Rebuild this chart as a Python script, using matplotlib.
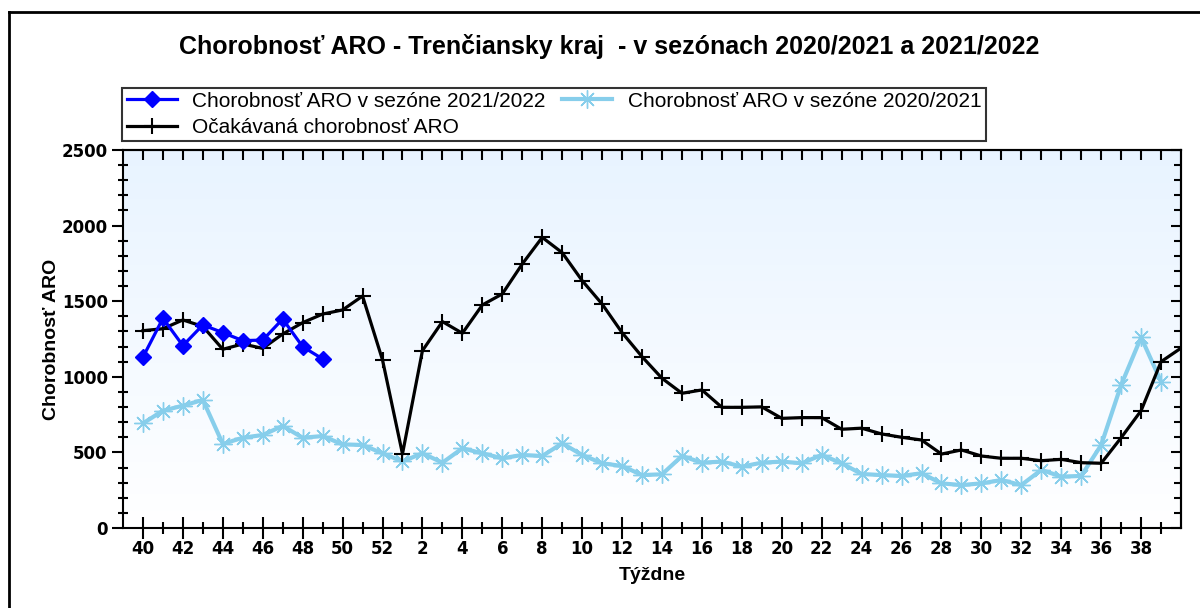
import numpy as np
from matplotlib import pyplot as plt
from matplotlib.lines import Line2D

# Týždne sezóny (40..52, 1..40)
tyzdne = list(range(40, 53)) + list(range(1, 41))

# Chorobnosť ARO v sezóne 2021/2022 (týždne 40-49)
sezona_2122 = [1130, 1387, 1206, 1343, 1292, 1239, 1243, 1382, 1199, 1118]

# Chorobnosť ARO v sezóne 2020/2021
sezona_2021 = [692, 776, 809, 847, 556, 597, 615, 675, 597, 608,
               553, 549, 494, 440, 494, 432, 527, 494, 461, 483,
               476, 560, 483, 428, 410, 350, 355, 476, 432, 439,
               406, 432, 439, 428, 483, 428, 357, 350, 344, 362,
               295, 284, 295, 317, 284, 384, 340, 344, 549, 946,
               1261, 968]

# Očakávaná chorobnosť ARO
ocakavana = [1305, 1318, 1376, 1333, 1182, 1217, 1188, 1283, 1358, 1415,
             1442, 1534, 1111, 490, 1173, 1365, 1288, 1475, 1548, 1746,
             1922, 1821, 1636, 1481, 1292, 1133, 990, 891, 913, 798,
             798, 801, 725, 730, 730, 653, 660, 622, 600, 582,
             489, 516, 476, 461, 461, 445, 454, 432, 428, 597,
             776, 1100, 1190]

plt.rcParams['font.family'] = ['Liberation Sans', 'DejaVu Sans']

fig = plt.figure(figsize=(12, 6.08), dpi=100)
ax = fig.add_axes([0.1025, 0.1316, 0.8817, 0.6217])

# pozadie s prechodom
grad = np.linspace(0, 1, 256).reshape(-1, 1)
top = np.array([0.91, 0.955, 1.0])
bot = np.array([1.0, 1.0, 1.0])
img = top * (1 - grad)[:, :, None] + bot * grad[:, :, None]
ax.imshow(img, extent=[0, 1, 0, 1], transform=ax.transAxes, aspect='auto', zorder=0)

x_2122 = np.arange(len(sezona_2122))
x_2021 = np.arange(len(sezona_2021))
x_ocak = np.arange(len(ocakavana))

l1, = ax.plot(x_2122, sezona_2122, color='#0000ff', lw=2.3, marker='D', ms=8,
              label='Chorobnosť ARO v sezóne 2021/2022', zorder=4)
l2, = ax.plot(x_2021, sezona_2021, color='#87ceeb', lw=3, marker=(8, 2, 0), ms=13,
              mew=1, label='Chorobnosť ARO v sezóne 2020/2021', zorder=2)
l3, = ax.plot(x_ocak, ocakavana, color='black', lw=2.3, marker='+', ms=12, mew=1.5,
              markevery=list(range(len(ocakavana) - 1)),
              label='Očakávaná chorobnosť ARO', zorder=3)

ax.set_xlim(-1, 52)
ax.set_ylim(0, 2500)

major_idx = list(range(0, 51, 2))
ax.set_xticks(major_idx)
ax.set_xticklabels([str(tyzdne[i]) for i in major_idx])
ax.set_xticks(list(range(1, 52, 2)), minor=True)
ax.set_yticks(range(0, 2501, 500))
ax.set_yticks(range(0, 2501, 100), minor=True)

ax.tick_params(axis='x', which='major', direction='inout', length=16, width=1.5,
               top=False, pad=1, labelsize=12)
ax.tick_params(axis='x', which='minor', direction='inout', length=8, width=1.5, top=False)
ax.tick_params(axis='y', which='major', direction='out', length=8, width=1.5,
               right=False, pad=3, labelsize=12)
ax.tick_params(axis='y', which='minor', direction='inout', length=7, width=1.5, right=False)
for lab in ax.get_xticklabels() + ax.get_yticklabels():
    lab.set_fontfamily('DejaVu Sans')
    lab.set_fontweight('bold')

# horné a pravé značky smerom dnu
secx = ax.secondary_xaxis('top')
secx.set_xticks(list(range(0, 52)), labels=[])
secx.tick_params(direction='in', length=7, width=1.5)
secy = ax.secondary_yaxis('right')
secy.set_yticks(range(0, 2501, 500), labels=[])
secy.set_yticks(range(0, 2501, 100), minor=True)
secy.tick_params(which='major', direction='in', length=7, width=1.5)
secy.tick_params(which='minor', direction='in', length=5, width=1.5)
secy.yaxis.set_ticklabels([], minor=True)

for s in list(ax.spines.values()) + list(secx.spines.values()) + list(secy.spines.values()):
    s.set_linewidth(1.5)

ax.set_xlabel('Týždne', fontsize=14, fontweight='bold', labelpad=6)
ax.set_ylabel('Chorobnosť ARO', fontsize=14, fontweight='bold', labelpad=1)

fig.text(0.508, 0.924, 'Chorobnosť ARO - Trenčiansky kraj  - v sezónach 2020/2021 a 2021/2022',
         ha='center', va='center', fontsize=18, fontweight='bold')

leg = fig.legend(handles=[l1, l3, l2], loc='upper left', bbox_to_anchor=(0.102, 0.856),
                 ncol=2, fontsize=15, frameon=True, fancybox=False, edgecolor='black',
                 handlelength=2.4, borderpad=0.2, labelspacing=0.35, columnspacing=0.8,
                 handletextpad=0.75, borderaxespad=0)
leg.get_frame().set_linewidth(1.5)

# rámik okolo grafu
fig.add_artist(Line2D([0.0075, 0.0075], [0, 0.98], transform=fig.transFigure, color='black', lw=2))
fig.add_artist(Line2D([0.0075, 1.0], [0.98, 0.98], transform=fig.transFigure, color='black', lw=2))

plt.savefig('out.png', dpi=100)
